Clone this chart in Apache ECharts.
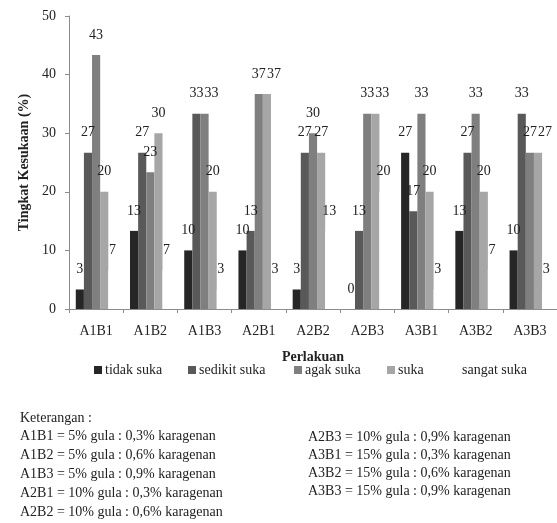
<!DOCTYPE html>
<html>
<head>
<meta charset="utf-8">
<script src="https://cdn.jsdelivr.net/npm/echarts@6/dist/echarts.min.js"></script>
<style>
html,body{margin:0;padding:0;background:#fff;}
#chart{width:557px;height:523px;}
</style>
</head>
<body>
<div id="chart"></div>
<script>
var categories = ['A1B1','A1B2','A1B3','A2B1','A2B2','A2B3','A3B1','A3B2','A3B3'];
var seriesNames = ['tidak suka','sedikit suka','agak suka','suka','sangat suka'];
var tidakSuka   = [3.33, 13.33, 10, 10, 3.33, 0, 26.67, 13.33, 10];
var sedikitSuka = [26.67, 26.67, 33.33, 13.33, 26.67, 13.33, 16.67, 26.67, 33.33];
var agakSuka    = [43.33, 23.33, 33.33, 36.67, 30, 33.33, 33.33, 33.33, 26.67];
var suka        = [20, 30, 20, 36.67, 26.67, 33.33, 20, 20, 26.67];
var sangatSuka  = [6.67, 6.67, 3.33, 3.33, 13.33, 20, 3.33, 6.67, 3.33];
var yTicks = [0, 10, 20, 30, 40, 50];
var notesLeft = [
  'Keterangan :',
  'A1B1 = 5% gula : 0,3% karagenan',
  'A1B2 = 5% gula : 0,6% karagenan',
  'A1B3 = 5% gula : 0,9% karagenan',
  'A2B1 = 10% gula : 0,3% karagenan',
  'A2B2 = 10% gula : 0,6% karagenan'
];
var notesRight = [
  'A2B3 = 10% gula : 0,9% karagenan',
  'A3B1 = 15% gula : 0,3% karagenan',
  'A3B2 = 15% gula : 0,6% karagenan',
  'A3B3 = 15% gula : 0,9% karagenan'
];

var FONT = '"Liberation Serif", "Times New Roman", serif';
var colors = ['#262626', '#595959', '#7f7f7f', '#a6a6a6', '#ffffff'];
var values = [tidakSuka, sedikitSuka, agakSuka, suka, sangatSuka];

var series = seriesNames.map(function (n, i) {
  return {
    name: n,
    type: 'bar',
    data: values[i],
    barGap: '0%',
    barCategoryGap: '25%',
    itemStyle: { color: colors[i] },
    label: {
      show: true,
      position: 'top',
      distance: 13,
      fontFamily: FONT,
      fontSize: 14,
      color: '#222',
      formatter: function (p) { return Math.round(p.value); }
    },
    labelLayout: function (p) {
      var s = p.seriesIndex, d = p.dataIndex;
      if (s > 0 && Math.round(values[s - 1][d]) === Math.round(values[s][d])) {
        return { dx: 7 };
      }
      return {};
    },
    emphasis: { disabled: true }
  };
});

var legendX = [89, 183, 289, 382, 446];
var legends = seriesNames.map(function (n, i) {
  return {
    data: [n],
    left: legendX[i],
    top: 358,
    itemWidth: 8,
    itemHeight: 8,
    icon: 'rect',
    selectedMode: false,
    textStyle: { fontFamily: FONT, fontSize: 14, color: '#222', padding: [0, 0, 0, -2] }
  };
});

var graphics = [];
notesLeft.forEach(function (t, i) {
  graphics.push({ type: 'text', left: 20, top: 411 + i * 18.8,
    style: { text: t, font: '14px ' + FONT, fill: '#222' } });
});
notesRight.forEach(function (t, i) {
  graphics.push({ type: 'text', left: 308, top: 430 + i * 18.2,
    style: { text: t, font: '14px ' + FONT, fill: '#222' } });
});

var chart = echarts.init(document.getElementById('chart'), null, { renderer: 'canvas' });
chart.setOption({
  backgroundColor: '#ffffff',
  animation: false,
  grid: { left: 69, top: 16, width: 491, height: 293, containLabel: false },
  legend: legends,
  xAxis: {
    type: 'category',
    data: categories,
    name: 'Perlakuan',
    nameLocation: 'middle',
    nameGap: 41,
    nameTextStyle: { fontFamily: FONT, fontSize: 14, fontWeight: 'bold', color: '#222' },
    axisLine: { lineStyle: { color: '#8c8c8c', width: 1 } },
    axisTick: { show: true, length: 4, lineStyle: { color: '#8c8c8c' } },
    axisLabel: { fontFamily: FONT, fontSize: 14, color: '#222', margin: 15 }
  },
  yAxis: {
    type: 'value',
    min: yTicks[0],
    max: yTicks[yTicks.length - 1],
    interval: 10,
    name: 'Tingkat Kesukaan (%)',
    nameLocation: 'middle',
    nameGap: 37,
    nameTextStyle: { fontFamily: FONT, fontSize: 14, fontWeight: 'bold', color: '#222' },
    axisLine: { show: true, lineStyle: { color: '#8c8c8c', width: 1 } },
    axisTick: { show: true, length: 4, lineStyle: { color: '#8c8c8c' } },
    splitLine: { show: false },
    axisLabel: { fontFamily: FONT, fontSize: 14, color: '#222', margin: 13 }
  },
  series: series,
  graphic: graphics
});
</script>
</body>
</html>
